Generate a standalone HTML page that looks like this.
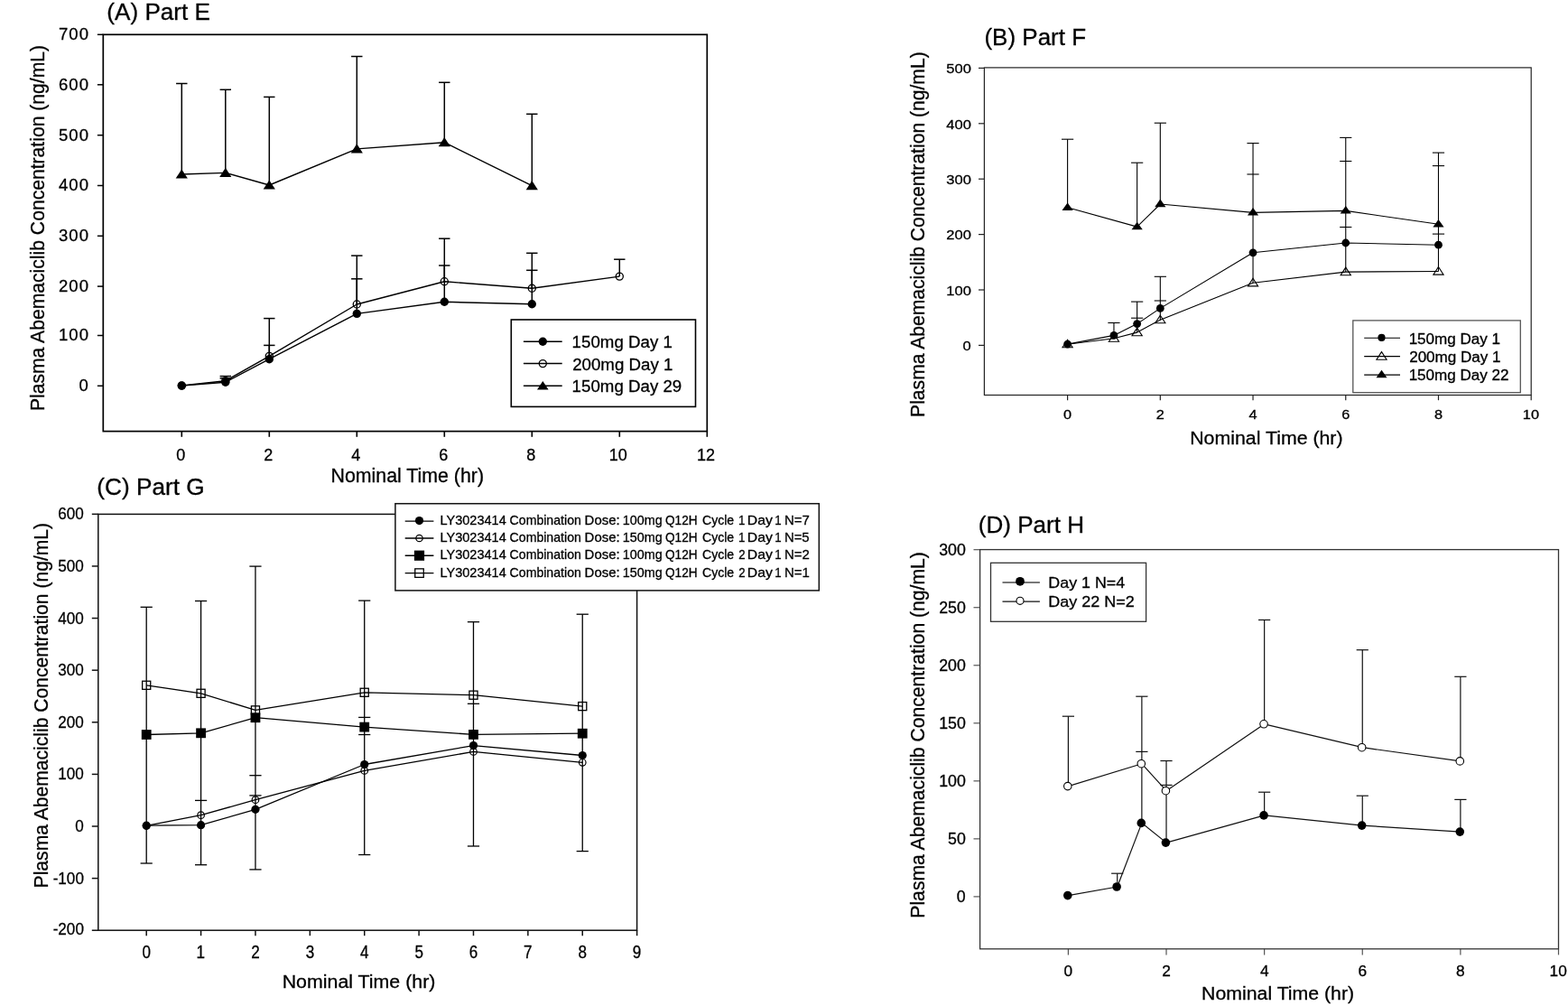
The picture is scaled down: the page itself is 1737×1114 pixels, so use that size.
<!DOCTYPE html>
<html><head><meta charset="utf-8"><title>Plasma Abemaciclib Concentration</title>
<style>html,body{margin:0;padding:0;background:#fff;} svg{display:block;} text{font-family:"Liberation Sans",Arial,sans-serif;stroke:#000;stroke-width:0.3px;}</style>
</head><body>
<svg width="1737" height="1114" viewBox="0 0 1737 1114">
<rect width="1737" height="1114" fill="#fff"/>
<line x1="107.90" y1="427.30" x2="114.30" y2="427.30" stroke="#000" stroke-width="1.5"/>
<text transform="translate(87.58,433.20)" font-size="18.5" fill="#000" letter-spacing="1.0">0</text>
<line x1="107.90" y1="371.50" x2="114.30" y2="371.50" stroke="#000" stroke-width="1.5"/>
<text transform="translate(65.05,377.40)" font-size="18.5" fill="#000" letter-spacing="1.0">100</text>
<line x1="107.90" y1="317.10" x2="114.30" y2="317.10" stroke="#000" stroke-width="1.5"/>
<text transform="translate(65.05,323.00)" font-size="18.5" fill="#000" letter-spacing="1.0">200</text>
<line x1="107.90" y1="261.30" x2="114.30" y2="261.30" stroke="#000" stroke-width="1.5"/>
<text transform="translate(65.05,267.20)" font-size="18.5" fill="#000" letter-spacing="1.0">300</text>
<line x1="107.90" y1="205.50" x2="114.30" y2="205.50" stroke="#000" stroke-width="1.5"/>
<text transform="translate(65.05,211.40)" font-size="18.5" fill="#000" letter-spacing="1.0">400</text>
<line x1="107.90" y1="149.70" x2="114.30" y2="149.70" stroke="#000" stroke-width="1.5"/>
<text transform="translate(65.05,155.60)" font-size="18.5" fill="#000" letter-spacing="1.0">500</text>
<line x1="107.90" y1="93.80" x2="114.30" y2="93.80" stroke="#000" stroke-width="1.5"/>
<text transform="translate(65.05,99.70)" font-size="18.5" fill="#000" letter-spacing="1.0">600</text>
<line x1="107.90" y1="38.30" x2="114.30" y2="38.30" stroke="#000" stroke-width="1.5"/>
<text transform="translate(65.05,44.20)" font-size="18.5" fill="#000" letter-spacing="1.0">700</text>
<line x1="201.30" y1="477.60" x2="201.30" y2="483.80" stroke="#000" stroke-width="1.6"/>
<text transform="translate(195.15,509.70) scale(0.9700,1)" font-size="18.6" fill="#000">0</text>
<line x1="298.30" y1="477.60" x2="298.30" y2="483.80" stroke="#000" stroke-width="1.6"/>
<text transform="translate(292.15,509.70) scale(0.9700,1)" font-size="18.6" fill="#000">2</text>
<line x1="395.30" y1="477.60" x2="395.30" y2="483.80" stroke="#000" stroke-width="1.6"/>
<text transform="translate(389.24,509.70) scale(0.9700,1)" font-size="18.6" fill="#000">4</text>
<line x1="492.30" y1="477.60" x2="492.30" y2="483.80" stroke="#000" stroke-width="1.6"/>
<text transform="translate(486.15,509.70) scale(0.9700,1)" font-size="18.6" fill="#000">6</text>
<line x1="589.30" y1="477.60" x2="589.30" y2="483.80" stroke="#000" stroke-width="1.6"/>
<text transform="translate(583.24,509.70) scale(0.9700,1)" font-size="18.6" fill="#000">8</text>
<line x1="686.30" y1="477.60" x2="686.30" y2="483.80" stroke="#000" stroke-width="1.6"/>
<text transform="translate(674.83,509.70) scale(0.9700,1)" font-size="18.6" fill="#000">10</text>
<line x1="783.30" y1="477.60" x2="783.30" y2="483.80" stroke="#000" stroke-width="1.6"/>
<text transform="translate(771.92,509.70) scale(0.9700,1)" font-size="18.6" fill="#000">12</text>
<rect x="114.30" y="38.30" width="669.00" height="439.30" fill="none" stroke="#000" stroke-width="1.7"/>
<text transform="translate(118.33,21.60) scale(1.0128,1)" font-size="25.8" fill="#000">(A) Part E</text>
<text transform="translate(366.49,533.60) scale(1.0069,1)" font-size="21.2" fill="#000">Nominal Time (hr)</text>
<text transform="translate(49.40,455.09) rotate(-90) scale(0.9612,1)" font-size="22.0" fill="#000">Plasma Abemaciclib Concentration (ng/mL)</text>
<line x1="201.30" y1="193.00" x2="201.30" y2="92.50" stroke="#000" stroke-width="1.5"/>
<line x1="195.10" y1="92.50" x2="207.50" y2="92.50" stroke="#000" stroke-width="1.5"/>
<line x1="249.80" y1="191.40" x2="249.80" y2="99.30" stroke="#000" stroke-width="1.5"/>
<line x1="243.60" y1="99.30" x2="256.00" y2="99.30" stroke="#000" stroke-width="1.5"/>
<line x1="298.30" y1="205.00" x2="298.30" y2="107.40" stroke="#000" stroke-width="1.5"/>
<line x1="292.10" y1="107.40" x2="304.50" y2="107.40" stroke="#000" stroke-width="1.5"/>
<line x1="395.30" y1="164.90" x2="395.30" y2="62.50" stroke="#000" stroke-width="1.5"/>
<line x1="389.10" y1="62.50" x2="401.50" y2="62.50" stroke="#000" stroke-width="1.5"/>
<line x1="492.30" y1="157.70" x2="492.30" y2="91.30" stroke="#000" stroke-width="1.5"/>
<line x1="486.10" y1="91.30" x2="498.50" y2="91.30" stroke="#000" stroke-width="1.5"/>
<line x1="589.30" y1="205.60" x2="589.30" y2="126.30" stroke="#000" stroke-width="1.5"/>
<line x1="583.10" y1="126.30" x2="595.50" y2="126.30" stroke="#000" stroke-width="1.5"/>
<line x1="249.80" y1="423.20" x2="249.80" y2="418.90" stroke="#000" stroke-width="1.5"/>
<line x1="243.60" y1="418.90" x2="256.00" y2="418.90" stroke="#000" stroke-width="1.5"/>
<line x1="298.30" y1="397.70" x2="298.30" y2="382.40" stroke="#000" stroke-width="1.5"/>
<line x1="292.10" y1="382.40" x2="304.50" y2="382.40" stroke="#000" stroke-width="1.5"/>
<line x1="395.30" y1="347.40" x2="395.30" y2="308.80" stroke="#000" stroke-width="1.5"/>
<line x1="389.10" y1="308.80" x2="401.50" y2="308.80" stroke="#000" stroke-width="1.5"/>
<line x1="492.30" y1="334.30" x2="492.30" y2="294.00" stroke="#000" stroke-width="1.5"/>
<line x1="486.10" y1="294.00" x2="498.50" y2="294.00" stroke="#000" stroke-width="1.5"/>
<line x1="589.30" y1="336.70" x2="589.30" y2="299.30" stroke="#000" stroke-width="1.5"/>
<line x1="583.10" y1="299.30" x2="595.50" y2="299.30" stroke="#000" stroke-width="1.5"/>
<line x1="249.80" y1="421.80" x2="249.80" y2="416.60" stroke="#000" stroke-width="1.5"/>
<line x1="243.60" y1="416.60" x2="256.00" y2="416.60" stroke="#000" stroke-width="1.5"/>
<line x1="298.30" y1="394.40" x2="298.30" y2="352.60" stroke="#000" stroke-width="1.5"/>
<line x1="292.10" y1="352.60" x2="304.50" y2="352.60" stroke="#000" stroke-width="1.5"/>
<line x1="395.30" y1="337.00" x2="395.30" y2="283.10" stroke="#000" stroke-width="1.5"/>
<line x1="389.10" y1="283.10" x2="401.50" y2="283.10" stroke="#000" stroke-width="1.5"/>
<line x1="492.30" y1="311.70" x2="492.30" y2="264.20" stroke="#000" stroke-width="1.5"/>
<line x1="486.10" y1="264.20" x2="498.50" y2="264.20" stroke="#000" stroke-width="1.5"/>
<line x1="589.30" y1="319.30" x2="589.30" y2="280.30" stroke="#000" stroke-width="1.5"/>
<line x1="583.10" y1="280.30" x2="595.50" y2="280.30" stroke="#000" stroke-width="1.5"/>
<line x1="686.30" y1="306.10" x2="686.30" y2="287.20" stroke="#000" stroke-width="1.5"/>
<line x1="680.10" y1="287.20" x2="692.50" y2="287.20" stroke="#000" stroke-width="1.5"/>
<polyline points="201.30,193.00 249.80,191.40 298.30,205.00 395.30,164.90 492.30,157.70 589.30,205.60" fill="none" stroke="#000" stroke-width="1.4" stroke-linejoin="round"/>
<polyline points="201.30,427.10 249.80,423.20 298.30,397.70 395.30,347.40 492.30,334.30 589.30,336.70" fill="none" stroke="#000" stroke-width="1.4" stroke-linejoin="round"/>
<polyline points="201.30,427.00 249.80,421.80 298.30,394.40 395.30,337.00 492.30,311.70 589.30,319.30 686.30,306.10" fill="none" stroke="#000" stroke-width="1.4" stroke-linejoin="round"/>
<polygon points="201.30,187.40 207.90,197.60 194.70,197.60" fill="#000"/>
<polygon points="249.80,185.80 256.40,196.00 243.20,196.00" fill="#000"/>
<polygon points="298.30,199.40 304.90,209.60 291.70,209.60" fill="#000"/>
<polygon points="395.30,159.30 401.90,169.50 388.70,169.50" fill="#000"/>
<polygon points="492.30,152.10 498.90,162.30 485.70,162.30" fill="#000"/>
<polygon points="589.30,200.00 595.90,210.20 582.70,210.20" fill="#000"/>
<circle cx="201.30" cy="427.00" r="4.05" fill="none" stroke="#000" stroke-width="1.3"/>
<circle cx="249.80" cy="421.80" r="4.05" fill="none" stroke="#000" stroke-width="1.3"/>
<circle cx="298.30" cy="394.40" r="4.05" fill="none" stroke="#000" stroke-width="1.3"/>
<circle cx="395.30" cy="337.00" r="4.05" fill="none" stroke="#000" stroke-width="1.3"/>
<circle cx="492.30" cy="311.70" r="4.05" fill="none" stroke="#000" stroke-width="1.3"/>
<circle cx="589.30" cy="319.30" r="4.05" fill="none" stroke="#000" stroke-width="1.3"/>
<circle cx="686.30" cy="306.10" r="4.05" fill="none" stroke="#000" stroke-width="1.3"/>
<circle cx="201.30" cy="427.10" r="4.70" fill="#000"/>
<circle cx="249.80" cy="423.20" r="4.70" fill="#000"/>
<circle cx="298.30" cy="397.70" r="4.70" fill="#000"/>
<circle cx="395.30" cy="347.40" r="4.70" fill="#000"/>
<circle cx="492.30" cy="334.30" r="4.70" fill="#000"/>
<circle cx="589.30" cy="336.70" r="4.70" fill="#000"/>
<rect x="566.30" y="354.00" width="204.20" height="96.40" fill="none" stroke="#000" stroke-width="1.6"/>
<line x1="579.90" y1="378.20" x2="622.70" y2="378.20" stroke="#000" stroke-width="1.5"/>
<circle cx="601.30" cy="378.20" r="4.70" fill="#000"/>
<text transform="translate(633.60,385.10) scale(0.9850,1)" font-size="19.0" fill="#000">150mg Day 1</text>
<line x1="579.90" y1="402.60" x2="622.70" y2="402.60" stroke="#000" stroke-width="1.5"/>
<circle cx="601.30" cy="402.60" r="4.05" fill="none" stroke="#000" stroke-width="1.3"/>
<text transform="translate(634.16,409.50) scale(0.9850,1)" font-size="19.0" fill="#000">200mg Day 1</text>
<line x1="579.90" y1="427.20" x2="622.70" y2="427.20" stroke="#000" stroke-width="1.5"/>
<polygon points="601.30,421.90 607.60,431.60 595.00,431.60" fill="#000"/>
<text transform="translate(633.60,434.10) scale(0.9850,1)" font-size="19.0" fill="#000">150mg Day 29</text>
<line x1="1084.00" y1="382.40" x2="1090.40" y2="382.40" stroke="#222" stroke-width="1.2"/>
<text transform="translate(1066.62,388.20) scale(1.1150,1)" font-size="14.8" fill="#000">0</text>
<line x1="1084.00" y1="321.00" x2="1090.40" y2="321.00" stroke="#222" stroke-width="1.2"/>
<text transform="translate(1048.30,326.80) scale(1.1150,1)" font-size="14.8" fill="#000">100</text>
<line x1="1084.00" y1="259.60" x2="1090.40" y2="259.60" stroke="#222" stroke-width="1.2"/>
<text transform="translate(1048.30,265.40) scale(1.1150,1)" font-size="14.8" fill="#000">200</text>
<line x1="1084.00" y1="198.20" x2="1090.40" y2="198.20" stroke="#222" stroke-width="1.2"/>
<text transform="translate(1048.30,204.00) scale(1.1150,1)" font-size="14.8" fill="#000">300</text>
<line x1="1084.00" y1="136.80" x2="1090.40" y2="136.80" stroke="#222" stroke-width="1.2"/>
<text transform="translate(1048.30,142.60) scale(1.1150,1)" font-size="14.8" fill="#000">400</text>
<line x1="1084.00" y1="75.40" x2="1090.40" y2="75.40" stroke="#222" stroke-width="1.2"/>
<text transform="translate(1048.30,81.20) scale(1.1150,1)" font-size="14.8" fill="#000">500</text>
<line x1="1182.60" y1="437.50" x2="1182.60" y2="443.20" stroke="#222" stroke-width="1.2"/>
<text transform="translate(1178.04,464.20) scale(1.1400,1)" font-size="14.3" fill="#000">0</text>
<line x1="1285.32" y1="437.50" x2="1285.32" y2="443.20" stroke="#222" stroke-width="1.2"/>
<text transform="translate(1280.76,464.20) scale(1.1400,1)" font-size="14.3" fill="#000">2</text>
<line x1="1388.04" y1="437.50" x2="1388.04" y2="443.20" stroke="#222" stroke-width="1.2"/>
<text transform="translate(1383.56,464.20) scale(1.1400,1)" font-size="14.3" fill="#000">4</text>
<line x1="1490.76" y1="437.50" x2="1490.76" y2="443.20" stroke="#222" stroke-width="1.2"/>
<text transform="translate(1486.20,464.20) scale(1.1400,1)" font-size="14.3" fill="#000">6</text>
<line x1="1593.48" y1="437.50" x2="1593.48" y2="443.20" stroke="#222" stroke-width="1.2"/>
<text transform="translate(1589.00,464.20) scale(1.1400,1)" font-size="14.3" fill="#000">8</text>
<line x1="1696.20" y1="437.50" x2="1696.20" y2="443.20" stroke="#222" stroke-width="1.2"/>
<text transform="translate(1686.83,464.20) scale(1.1400,1)" font-size="14.3" fill="#000">10</text>
<rect x="1090.40" y="74.90" width="605.80" height="362.60" fill="none" stroke="#222" stroke-width="1.2"/>
<text transform="translate(1090.44,50.30) scale(1.0119,1)" font-size="25.7" fill="#000">(B) Part F</text>
<text transform="translate(1318.19,492.40) scale(1.0153,1)" font-size="21.0" fill="#000">Nominal Time (hr)</text>
<text transform="translate(1024.20,461.89) rotate(-90) scale(0.9597,1)" font-size="22.0" fill="#000">Plasma Abemaciclib Concentration (ng/mL)</text>
<line x1="1182.60" y1="229.80" x2="1182.60" y2="154.20" stroke="#000" stroke-width="1.1"/>
<line x1="1176.00" y1="154.20" x2="1189.20" y2="154.20" stroke="#000" stroke-width="1.1"/>
<line x1="1233.96" y1="371.40" x2="1233.96" y2="357.50" stroke="#000" stroke-width="1.1"/>
<line x1="1227.36" y1="357.50" x2="1240.56" y2="357.50" stroke="#000" stroke-width="1.1"/>
<line x1="1259.64" y1="251.10" x2="1259.64" y2="180.20" stroke="#000" stroke-width="1.1"/>
<line x1="1253.04" y1="180.20" x2="1266.24" y2="180.20" stroke="#000" stroke-width="1.1"/>
<line x1="1259.64" y1="368.10" x2="1259.64" y2="334.10" stroke="#000" stroke-width="1.1"/>
<line x1="1253.04" y1="334.10" x2="1266.24" y2="334.10" stroke="#000" stroke-width="1.1"/>
<line x1="1253.04" y1="352.20" x2="1266.24" y2="352.20" stroke="#000" stroke-width="1.1"/>
<line x1="1285.32" y1="226.00" x2="1285.32" y2="136.20" stroke="#000" stroke-width="1.1"/>
<line x1="1278.72" y1="136.20" x2="1291.92" y2="136.20" stroke="#000" stroke-width="1.1"/>
<line x1="1285.32" y1="354.20" x2="1285.32" y2="306.30" stroke="#000" stroke-width="1.1"/>
<line x1="1278.72" y1="306.30" x2="1291.92" y2="306.30" stroke="#000" stroke-width="1.1"/>
<line x1="1278.72" y1="333.00" x2="1291.92" y2="333.00" stroke="#000" stroke-width="1.1"/>
<line x1="1388.04" y1="313.30" x2="1388.04" y2="158.60" stroke="#000" stroke-width="1.1"/>
<line x1="1381.44" y1="158.60" x2="1394.64" y2="158.60" stroke="#000" stroke-width="1.1"/>
<line x1="1381.44" y1="193.00" x2="1394.64" y2="193.00" stroke="#000" stroke-width="1.1"/>
<line x1="1490.76" y1="301.10" x2="1490.76" y2="152.40" stroke="#000" stroke-width="1.1"/>
<line x1="1484.16" y1="152.40" x2="1497.36" y2="152.40" stroke="#000" stroke-width="1.1"/>
<line x1="1484.16" y1="178.50" x2="1497.36" y2="178.50" stroke="#000" stroke-width="1.1"/>
<line x1="1484.16" y1="251.50" x2="1497.36" y2="251.50" stroke="#000" stroke-width="1.1"/>
<line x1="1593.48" y1="300.50" x2="1593.48" y2="169.10" stroke="#000" stroke-width="1.1"/>
<line x1="1586.88" y1="169.10" x2="1600.08" y2="169.10" stroke="#000" stroke-width="1.1"/>
<line x1="1586.88" y1="183.60" x2="1600.08" y2="183.60" stroke="#000" stroke-width="1.1"/>
<line x1="1586.88" y1="259.10" x2="1600.08" y2="259.10" stroke="#000" stroke-width="1.1"/>
<polyline points="1182.60,381.10 1233.96,371.40 1259.64,358.60 1285.32,341.40 1388.04,279.80 1490.76,269.00 1593.48,271.20" fill="none" stroke="#000" stroke-width="1.1" stroke-linejoin="round"/>
<polyline points="1182.60,381.20 1233.96,374.70 1259.64,368.10 1285.32,354.20 1388.04,313.30 1490.76,301.10 1593.48,300.50" fill="none" stroke="#000" stroke-width="1.1" stroke-linejoin="round"/>
<polyline points="1182.60,229.80 1259.64,251.10 1285.32,226.00 1388.04,235.40 1490.76,233.40 1593.48,248.30" fill="none" stroke="#000" stroke-width="1.1" stroke-linejoin="round"/>
<polygon points="1182.60,376.20 1188.20,384.80 1177.00,384.80" fill="none" stroke="#000" stroke-width="1.1" stroke-linejoin="miter"/>
<polygon points="1233.96,369.70 1239.56,378.30 1228.36,378.30" fill="none" stroke="#000" stroke-width="1.1" stroke-linejoin="miter"/>
<polygon points="1259.64,363.10 1265.24,371.70 1254.04,371.70" fill="none" stroke="#000" stroke-width="1.1" stroke-linejoin="miter"/>
<polygon points="1285.32,349.20 1290.92,357.80 1279.72,357.80" fill="none" stroke="#000" stroke-width="1.1" stroke-linejoin="miter"/>
<polygon points="1388.04,308.30 1393.64,316.90 1382.44,316.90" fill="none" stroke="#000" stroke-width="1.1" stroke-linejoin="miter"/>
<polygon points="1490.76,296.10 1496.36,304.70 1485.16,304.70" fill="none" stroke="#000" stroke-width="1.1" stroke-linejoin="miter"/>
<polygon points="1593.48,295.50 1599.08,304.10 1587.88,304.10" fill="none" stroke="#000" stroke-width="1.1" stroke-linejoin="miter"/>
<circle cx="1182.60" cy="381.10" r="4.40" fill="#000"/>
<circle cx="1233.96" cy="371.40" r="4.40" fill="#000"/>
<circle cx="1259.64" cy="358.60" r="4.40" fill="#000"/>
<circle cx="1285.32" cy="341.40" r="4.40" fill="#000"/>
<circle cx="1388.04" cy="279.80" r="4.40" fill="#000"/>
<circle cx="1490.76" cy="269.00" r="4.40" fill="#000"/>
<circle cx="1593.48" cy="271.20" r="4.40" fill="#000"/>
<polygon points="1182.60,224.40 1188.70,233.00 1176.50,233.00" fill="#000"/>
<polygon points="1259.64,245.70 1265.74,254.30 1253.54,254.30" fill="#000"/>
<polygon points="1285.32,220.60 1291.42,229.20 1279.22,229.20" fill="#000"/>
<polygon points="1388.04,230.00 1394.14,238.60 1381.94,238.60" fill="#000"/>
<polygon points="1490.76,228.00 1496.86,236.60 1484.66,236.60" fill="#000"/>
<polygon points="1593.48,242.90 1599.58,251.50 1587.38,251.50" fill="#000"/>
<rect x="1498.80" y="354.90" width="185.50" height="79.80" fill="none" stroke="#555" stroke-width="1.3"/>
<line x1="1511.20" y1="374.30" x2="1551.00" y2="374.30" stroke="#000" stroke-width="1.1"/>
<circle cx="1530.50" cy="373.90" r="4.10" fill="#000"/>
<text transform="translate(1560.63,380.70) scale(1.0800,1)" font-size="15.8" fill="#000">150mg Day 1</text>
<line x1="1511.20" y1="394.60" x2="1551.00" y2="394.60" stroke="#000" stroke-width="1.1"/>
<polygon points="1530.50,389.60 1536.10,398.20 1524.90,398.20" fill="none" stroke="#000" stroke-width="1.1" stroke-linejoin="miter"/>
<text transform="translate(1561.15,400.60) scale(1.0800,1)" font-size="15.8" fill="#000">200mg Day 1</text>
<line x1="1511.20" y1="415.10" x2="1551.00" y2="415.10" stroke="#000" stroke-width="1.1"/>
<polygon points="1530.50,409.80 1536.50,418.30 1524.50,418.30" fill="#000"/>
<text transform="translate(1560.63,420.60) scale(1.0800,1)" font-size="15.8" fill="#000">150mg Day 22</text>
<line x1="101.80" y1="1030.22" x2="108.80" y2="1030.22" stroke="#111" stroke-width="1.5"/>
<text transform="translate(58.68,1034.92) scale(0.9000,1)" font-size="19.0" fill="#000">-200</text>
<line x1="101.80" y1="972.61" x2="108.80" y2="972.61" stroke="#111" stroke-width="1.5"/>
<text transform="translate(58.68,978.71) scale(0.9000,1)" font-size="19.0" fill="#000">-100</text>
<line x1="101.80" y1="915.00" x2="108.80" y2="915.00" stroke="#111" stroke-width="1.5"/>
<text transform="translate(83.31,921.10) scale(0.9000,1)" font-size="19.0" fill="#000">0</text>
<line x1="101.80" y1="857.39" x2="108.80" y2="857.39" stroke="#111" stroke-width="1.5"/>
<text transform="translate(64.33,863.49) scale(0.9000,1)" font-size="19.0" fill="#000">100</text>
<line x1="101.80" y1="799.78" x2="108.80" y2="799.78" stroke="#111" stroke-width="1.5"/>
<text transform="translate(64.33,805.88) scale(0.9000,1)" font-size="19.0" fill="#000">200</text>
<line x1="101.80" y1="742.17" x2="108.80" y2="742.17" stroke="#111" stroke-width="1.5"/>
<text transform="translate(64.33,748.27) scale(0.9000,1)" font-size="19.0" fill="#000">300</text>
<line x1="101.80" y1="684.56" x2="108.80" y2="684.56" stroke="#111" stroke-width="1.5"/>
<text transform="translate(64.33,690.66) scale(0.9000,1)" font-size="19.0" fill="#000">400</text>
<line x1="101.80" y1="626.95" x2="108.80" y2="626.95" stroke="#111" stroke-width="1.5"/>
<text transform="translate(64.33,633.05) scale(0.9000,1)" font-size="19.0" fill="#000">500</text>
<line x1="101.80" y1="569.34" x2="108.80" y2="569.34" stroke="#111" stroke-width="1.5"/>
<text transform="translate(64.33,575.44) scale(0.9000,1)" font-size="19.0" fill="#000">600</text>
<line x1="162.20" y1="1030.20" x2="162.20" y2="1036.20" stroke="#111" stroke-width="1.5"/>
<text transform="translate(157.42,1061.00) scale(0.8800,1)" font-size="19.4" fill="#000">0</text>
<line x1="222.58" y1="1030.20" x2="222.58" y2="1036.20" stroke="#111" stroke-width="1.5"/>
<text transform="translate(217.54,1061.00) scale(0.8800,1)" font-size="19.4" fill="#000">1</text>
<line x1="282.96" y1="1030.20" x2="282.96" y2="1036.20" stroke="#111" stroke-width="1.5"/>
<text transform="translate(278.18,1061.00) scale(0.8800,1)" font-size="19.4" fill="#000">2</text>
<line x1="343.34" y1="1030.20" x2="343.34" y2="1036.20" stroke="#111" stroke-width="1.5"/>
<text transform="translate(338.65,1061.00) scale(0.8800,1)" font-size="19.4" fill="#000">3</text>
<line x1="403.72" y1="1030.20" x2="403.72" y2="1036.20" stroke="#111" stroke-width="1.5"/>
<text transform="translate(399.03,1061.00) scale(0.8800,1)" font-size="19.4" fill="#000">4</text>
<line x1="464.10" y1="1030.20" x2="464.10" y2="1036.20" stroke="#111" stroke-width="1.5"/>
<text transform="translate(459.41,1061.00) scale(0.8800,1)" font-size="19.4" fill="#000">5</text>
<line x1="524.48" y1="1030.20" x2="524.48" y2="1036.20" stroke="#111" stroke-width="1.5"/>
<text transform="translate(519.70,1061.00) scale(0.8800,1)" font-size="19.4" fill="#000">6</text>
<line x1="584.86" y1="1030.20" x2="584.86" y2="1036.20" stroke="#111" stroke-width="1.5"/>
<text transform="translate(580.08,1061.00) scale(0.8800,1)" font-size="19.4" fill="#000">7</text>
<line x1="645.24" y1="1030.20" x2="645.24" y2="1036.20" stroke="#111" stroke-width="1.5"/>
<text transform="translate(640.55,1061.00) scale(0.8800,1)" font-size="19.4" fill="#000">8</text>
<line x1="705.62" y1="1030.20" x2="705.62" y2="1036.20" stroke="#111" stroke-width="1.5"/>
<text transform="translate(700.84,1061.00) scale(0.8800,1)" font-size="19.4" fill="#000">9</text>
<rect x="108.80" y="569.40" width="596.80" height="460.80" fill="none" stroke="#111" stroke-width="1.5"/>
<text transform="translate(107.33,547.60) scale(1.0480,1)" font-size="25.0" fill="#000">(C) Part G</text>
<text transform="translate(312.69,1094.20) scale(1.0177,1)" font-size="21.0" fill="#000">Nominal Time (hr)</text>
<text transform="translate(52.80,983.39) rotate(-90) scale(0.9593,1)" font-size="22.0" fill="#000">Plasma Abemaciclib Concentration (ng/mL)</text>
<line x1="162.20" y1="956.00" x2="162.20" y2="672.30" stroke="#000" stroke-width="1.3"/>
<line x1="155.60" y1="672.30" x2="168.80" y2="672.30" stroke="#000" stroke-width="1.3"/>
<line x1="155.60" y1="956.00" x2="168.80" y2="956.00" stroke="#000" stroke-width="1.3"/>
<line x1="222.58" y1="957.70" x2="222.58" y2="665.50" stroke="#000" stroke-width="1.3"/>
<line x1="215.98" y1="665.50" x2="229.18" y2="665.50" stroke="#000" stroke-width="1.3"/>
<line x1="215.98" y1="957.70" x2="229.18" y2="957.70" stroke="#000" stroke-width="1.3"/>
<line x1="215.98" y1="886.40" x2="229.18" y2="886.40" stroke="#000" stroke-width="1.3"/>
<line x1="282.96" y1="962.90" x2="282.96" y2="627.10" stroke="#000" stroke-width="1.3"/>
<line x1="276.36" y1="627.10" x2="289.56" y2="627.10" stroke="#000" stroke-width="1.3"/>
<line x1="276.36" y1="962.90" x2="289.56" y2="962.90" stroke="#000" stroke-width="1.3"/>
<line x1="276.36" y1="858.70" x2="289.56" y2="858.70" stroke="#000" stroke-width="1.3"/>
<line x1="276.36" y1="880.90" x2="289.56" y2="880.90" stroke="#000" stroke-width="1.3"/>
<line x1="403.72" y1="946.50" x2="403.72" y2="665.10" stroke="#000" stroke-width="1.3"/>
<line x1="397.12" y1="665.10" x2="410.32" y2="665.10" stroke="#000" stroke-width="1.3"/>
<line x1="397.12" y1="946.50" x2="410.32" y2="946.50" stroke="#000" stroke-width="1.3"/>
<line x1="397.12" y1="794.40" x2="410.32" y2="794.40" stroke="#000" stroke-width="1.3"/>
<line x1="397.12" y1="813.50" x2="410.32" y2="813.50" stroke="#000" stroke-width="1.3"/>
<line x1="524.48" y1="937.00" x2="524.48" y2="688.70" stroke="#000" stroke-width="1.3"/>
<line x1="517.88" y1="688.70" x2="531.08" y2="688.70" stroke="#000" stroke-width="1.3"/>
<line x1="517.88" y1="937.00" x2="531.08" y2="937.00" stroke="#000" stroke-width="1.3"/>
<line x1="517.88" y1="779.30" x2="531.08" y2="779.30" stroke="#000" stroke-width="1.3"/>
<line x1="645.24" y1="942.60" x2="645.24" y2="680.20" stroke="#000" stroke-width="1.3"/>
<line x1="638.64" y1="680.20" x2="651.84" y2="680.20" stroke="#000" stroke-width="1.3"/>
<line x1="638.64" y1="942.60" x2="651.84" y2="942.60" stroke="#000" stroke-width="1.3"/>
<polyline points="162.20,914.20 222.58,913.70 282.96,896.30 403.72,846.50 524.48,825.60 645.24,836.50" fill="none" stroke="#000" stroke-width="1.3" stroke-linejoin="round"/>
<polyline points="162.20,914.40 222.58,902.70 282.96,885.70 403.72,853.40 524.48,832.40 645.24,844.30" fill="none" stroke="#000" stroke-width="1.3" stroke-linejoin="round"/>
<polyline points="162.20,813.50 222.58,811.80 282.96,794.70 403.72,805.10 524.48,813.40 645.24,812.20" fill="none" stroke="#000" stroke-width="1.3" stroke-linejoin="round"/>
<polyline points="162.20,758.80 222.58,767.80 282.96,786.40 403.72,766.80 524.48,769.70 645.24,782.10" fill="none" stroke="#000" stroke-width="1.3" stroke-linejoin="round"/>
<rect x="157.65" y="754.25" width="9.10" height="9.10" fill="none" stroke="#000" stroke-width="1.3"/>
<rect x="218.03" y="763.25" width="9.10" height="9.10" fill="none" stroke="#000" stroke-width="1.3"/>
<rect x="278.41" y="781.85" width="9.10" height="9.10" fill="none" stroke="#000" stroke-width="1.3"/>
<rect x="399.17" y="762.25" width="9.10" height="9.10" fill="none" stroke="#000" stroke-width="1.3"/>
<rect x="519.93" y="765.15" width="9.10" height="9.10" fill="none" stroke="#000" stroke-width="1.3"/>
<rect x="640.69" y="777.55" width="9.10" height="9.10" fill="none" stroke="#000" stroke-width="1.3"/>
<rect x="156.80" y="808.10" width="10.80" height="10.80" fill="#000"/>
<rect x="217.18" y="806.40" width="10.80" height="10.80" fill="#000"/>
<rect x="277.56" y="789.30" width="10.80" height="10.80" fill="#000"/>
<rect x="398.32" y="799.70" width="10.80" height="10.80" fill="#000"/>
<rect x="519.08" y="808.00" width="10.80" height="10.80" fill="#000"/>
<rect x="639.84" y="806.80" width="10.80" height="10.80" fill="#000"/>
<circle cx="162.20" cy="914.40" r="3.80" fill="none" stroke="#000" stroke-width="1.2"/>
<circle cx="222.58" cy="902.70" r="3.80" fill="none" stroke="#000" stroke-width="1.2"/>
<circle cx="282.96" cy="885.70" r="3.80" fill="none" stroke="#000" stroke-width="1.2"/>
<circle cx="403.72" cy="853.40" r="3.80" fill="none" stroke="#000" stroke-width="1.2"/>
<circle cx="524.48" cy="832.40" r="3.80" fill="none" stroke="#000" stroke-width="1.2"/>
<circle cx="645.24" cy="844.30" r="3.80" fill="none" stroke="#000" stroke-width="1.2"/>
<circle cx="162.20" cy="914.20" r="4.60" fill="#000"/>
<circle cx="222.58" cy="913.70" r="4.60" fill="#000"/>
<circle cx="282.96" cy="896.30" r="4.60" fill="#000"/>
<circle cx="403.72" cy="846.50" r="4.60" fill="#000"/>
<circle cx="524.48" cy="825.60" r="4.60" fill="#000"/>
<circle cx="645.24" cy="836.50" r="4.60" fill="#000"/>
<rect x="437.90" y="557.70" width="469.40" height="96.20" fill="#fff" stroke="#111" stroke-width="1.5"/>
<line x1="448.70" y1="577.10" x2="480.40" y2="577.10" stroke="#000" stroke-width="1.4"/>
<circle cx="464.50" cy="576.60" r="4.60" fill="#000"/>
<text transform="translate(487.54,581.00) scale(1.0086,1)" font-size="14.4" fill="#000">LY3023414</text>
<text transform="translate(564.59,581.00) scale(0.9811,1)" font-size="14.4" fill="#000">Combination</text>
<text transform="translate(647.61,581.00) scale(1.0360,1)" font-size="14.4" fill="#000">Dose:</text>
<text transform="translate(689.75,581.00) scale(0.9975,1)" font-size="14.4" fill="#000">100mg</text>
<text transform="translate(737.02,581.00) scale(0.9465,1)" font-size="14.4" fill="#000">Q12H</text>
<text transform="translate(778.00,581.00) scale(0.9768,1)" font-size="14.4" fill="#000">Cycle</text>
<text transform="translate(817.94,581.00) scale(0.9200,1)" font-size="14.4" fill="#000">1</text>
<text transform="translate(827.84,581.00) scale(1.0930,1)" font-size="14.4" fill="#000">Day</text>
<text transform="translate(858.24,581.00) scale(0.9200,1)" font-size="14.4" fill="#000">1</text>
<text transform="translate(868.90,581.00) scale(1.0397,1)" font-size="14.4" fill="#000">N=7</text>
<line x1="448.70" y1="596.00" x2="480.40" y2="596.00" stroke="#000" stroke-width="1.4"/>
<circle cx="464.50" cy="596.00" r="3.70" fill="none" stroke="#000" stroke-width="1.2"/>
<text transform="translate(487.54,599.90) scale(1.0086,1)" font-size="14.4" fill="#000">LY3023414</text>
<text transform="translate(564.59,599.90) scale(0.9811,1)" font-size="14.4" fill="#000">Combination</text>
<text transform="translate(647.61,599.90) scale(1.0360,1)" font-size="14.4" fill="#000">Dose:</text>
<text transform="translate(689.75,599.90) scale(0.9975,1)" font-size="14.4" fill="#000">150mg</text>
<text transform="translate(737.02,599.90) scale(0.9465,1)" font-size="14.4" fill="#000">Q12H</text>
<text transform="translate(778.00,599.90) scale(0.9768,1)" font-size="14.4" fill="#000">Cycle</text>
<text transform="translate(817.94,599.90) scale(0.9200,1)" font-size="14.4" fill="#000">1</text>
<text transform="translate(827.84,599.90) scale(1.0930,1)" font-size="14.4" fill="#000">Day</text>
<text transform="translate(858.24,599.90) scale(0.9200,1)" font-size="14.4" fill="#000">1</text>
<text transform="translate(868.91,599.90) scale(1.0337,1)" font-size="14.4" fill="#000">N=5</text>
<line x1="448.70" y1="615.20" x2="480.40" y2="615.20" stroke="#000" stroke-width="1.4"/>
<rect x="458.90" y="609.60" width="11.20" height="11.20" fill="#000"/>
<text transform="translate(487.54,619.10) scale(1.0086,1)" font-size="14.4" fill="#000">LY3023414</text>
<text transform="translate(564.59,619.10) scale(0.9811,1)" font-size="14.4" fill="#000">Combination</text>
<text transform="translate(647.61,619.10) scale(1.0360,1)" font-size="14.4" fill="#000">Dose:</text>
<text transform="translate(689.75,619.10) scale(0.9975,1)" font-size="14.4" fill="#000">100mg</text>
<text transform="translate(737.02,619.10) scale(0.9465,1)" font-size="14.4" fill="#000">Q12H</text>
<text transform="translate(778.00,619.10) scale(0.9768,1)" font-size="14.4" fill="#000">Cycle</text>
<text transform="translate(818.34,619.10) scale(0.9200,1)" font-size="14.4" fill="#000">2</text>
<text transform="translate(827.84,619.10) scale(1.0930,1)" font-size="14.4" fill="#000">Day</text>
<text transform="translate(858.24,619.10) scale(0.9200,1)" font-size="14.4" fill="#000">1</text>
<text transform="translate(868.90,619.10) scale(1.0397,1)" font-size="14.4" fill="#000">N=2</text>
<line x1="448.70" y1="634.60" x2="480.40" y2="634.60" stroke="#000" stroke-width="1.4"/>
<rect x="459.75" y="629.85" width="9.50" height="9.50" fill="none" stroke="#000" stroke-width="1.3"/>
<text transform="translate(487.54,638.50) scale(1.0086,1)" font-size="14.4" fill="#000">LY3023414</text>
<text transform="translate(564.59,638.50) scale(0.9811,1)" font-size="14.4" fill="#000">Combination</text>
<text transform="translate(647.61,638.50) scale(1.0360,1)" font-size="14.4" fill="#000">Dose:</text>
<text transform="translate(689.75,638.50) scale(0.9975,1)" font-size="14.4" fill="#000">150mg</text>
<text transform="translate(737.02,638.50) scale(0.9465,1)" font-size="14.4" fill="#000">Q12H</text>
<text transform="translate(778.00,638.50) scale(0.9768,1)" font-size="14.4" fill="#000">Cycle</text>
<text transform="translate(818.34,638.50) scale(0.9200,1)" font-size="14.4" fill="#000">2</text>
<text transform="translate(827.84,638.50) scale(1.0930,1)" font-size="14.4" fill="#000">Day</text>
<text transform="translate(858.24,638.50) scale(0.9200,1)" font-size="14.4" fill="#000">1</text>
<text transform="translate(868.90,638.50) scale(1.0397,1)" font-size="14.4" fill="#000">N=1</text>
<line x1="1078.50" y1="992.90" x2="1085.60" y2="992.90" stroke="#555" stroke-width="1.2"/>
<text transform="translate(1059.86,999.30) scale(1.0100,1)" font-size="17.6" fill="#000">0</text>
<line x1="1078.50" y1="928.87" x2="1085.60" y2="928.87" stroke="#555" stroke-width="1.2"/>
<text transform="translate(1050.08,935.26) scale(1.0100,1)" font-size="17.6" fill="#000">50</text>
<line x1="1078.50" y1="864.83" x2="1085.60" y2="864.83" stroke="#555" stroke-width="1.2"/>
<text transform="translate(1040.13,871.23) scale(1.0100,1)" font-size="17.6" fill="#000">100</text>
<line x1="1078.50" y1="800.79" x2="1085.60" y2="800.79" stroke="#555" stroke-width="1.2"/>
<text transform="translate(1040.13,807.19) scale(1.0100,1)" font-size="17.6" fill="#000">150</text>
<line x1="1078.50" y1="736.76" x2="1085.60" y2="736.76" stroke="#555" stroke-width="1.2"/>
<text transform="translate(1040.13,743.16) scale(1.0100,1)" font-size="17.6" fill="#000">200</text>
<line x1="1078.50" y1="672.72" x2="1085.60" y2="672.72" stroke="#555" stroke-width="1.2"/>
<text transform="translate(1040.13,679.12) scale(1.0100,1)" font-size="17.6" fill="#000">250</text>
<line x1="1078.50" y1="608.69" x2="1085.60" y2="608.69" stroke="#555" stroke-width="1.2"/>
<text transform="translate(1040.13,615.09) scale(1.0100,1)" font-size="17.6" fill="#000">300</text>
<line x1="1183.40" y1="1050.80" x2="1183.40" y2="1057.40" stroke="#555" stroke-width="1.2"/>
<text transform="translate(1178.56,1081.30)" font-size="17.3" fill="#000">0</text>
<line x1="1292.02" y1="1050.80" x2="1292.02" y2="1057.40" stroke="#555" stroke-width="1.2"/>
<text transform="translate(1287.18,1081.30)" font-size="17.3" fill="#000">2</text>
<line x1="1400.64" y1="1050.80" x2="1400.64" y2="1057.40" stroke="#555" stroke-width="1.2"/>
<text transform="translate(1395.88,1081.30)" font-size="17.3" fill="#000">4</text>
<line x1="1509.26" y1="1050.80" x2="1509.26" y2="1057.40" stroke="#555" stroke-width="1.2"/>
<text transform="translate(1504.42,1081.30)" font-size="17.3" fill="#000">6</text>
<line x1="1617.88" y1="1050.80" x2="1617.88" y2="1057.40" stroke="#555" stroke-width="1.2"/>
<text transform="translate(1613.12,1081.30)" font-size="17.3" fill="#000">8</text>
<line x1="1726.50" y1="1050.80" x2="1726.50" y2="1057.40" stroke="#555" stroke-width="1.2"/>
<text transform="translate(1716.55,1081.30)" font-size="17.3" fill="#000">10</text>
<rect x="1085.60" y="608.60" width="640.90" height="442.20" fill="none" stroke="#333" stroke-width="1.3"/>
<text transform="translate(1083.74,589.70) scale(1.0147,1)" font-size="25.7" fill="#000">(D) Part H</text>
<text transform="translate(1331.10,1107.10) scale(1.0140,1)" font-size="21.0" fill="#000">Nominal Time (hr)</text>
<text transform="translate(1024.20,1016.69) rotate(-90) scale(0.9616,1)" font-size="22.0" fill="#000">Plasma Abemaciclib Concentration (ng/mL)</text>
<line x1="1183.40" y1="870.60" x2="1183.40" y2="793.20" stroke="#111" stroke-width="1.2"/>
<line x1="1176.80" y1="793.20" x2="1190.00" y2="793.20" stroke="#111" stroke-width="1.2"/>
<line x1="1237.71" y1="982.00" x2="1237.71" y2="967.20" stroke="#111" stroke-width="1.2"/>
<line x1="1231.11" y1="967.20" x2="1244.31" y2="967.20" stroke="#111" stroke-width="1.2"/>
<line x1="1264.87" y1="911.40" x2="1264.87" y2="771.20" stroke="#111" stroke-width="1.2"/>
<line x1="1258.27" y1="771.20" x2="1271.46" y2="771.20" stroke="#111" stroke-width="1.2"/>
<line x1="1258.27" y1="832.40" x2="1271.46" y2="832.40" stroke="#111" stroke-width="1.2"/>
<line x1="1292.02" y1="933.10" x2="1292.02" y2="842.50" stroke="#111" stroke-width="1.2"/>
<line x1="1285.42" y1="842.50" x2="1298.62" y2="842.50" stroke="#111" stroke-width="1.2"/>
<line x1="1285.42" y1="869.40" x2="1298.62" y2="869.40" stroke="#111" stroke-width="1.2"/>
<line x1="1400.64" y1="801.80" x2="1400.64" y2="686.50" stroke="#111" stroke-width="1.2"/>
<line x1="1394.04" y1="686.50" x2="1407.24" y2="686.50" stroke="#111" stroke-width="1.2"/>
<line x1="1400.64" y1="902.90" x2="1400.64" y2="877.20" stroke="#111" stroke-width="1.2"/>
<line x1="1394.04" y1="877.20" x2="1407.24" y2="877.20" stroke="#111" stroke-width="1.2"/>
<line x1="1509.26" y1="827.70" x2="1509.26" y2="719.70" stroke="#111" stroke-width="1.2"/>
<line x1="1502.66" y1="719.70" x2="1515.86" y2="719.70" stroke="#111" stroke-width="1.2"/>
<line x1="1509.26" y1="914.10" x2="1509.26" y2="881.20" stroke="#111" stroke-width="1.2"/>
<line x1="1502.66" y1="881.20" x2="1515.86" y2="881.20" stroke="#111" stroke-width="1.2"/>
<line x1="1617.88" y1="842.90" x2="1617.88" y2="749.30" stroke="#111" stroke-width="1.2"/>
<line x1="1611.28" y1="749.30" x2="1624.48" y2="749.30" stroke="#111" stroke-width="1.2"/>
<line x1="1617.88" y1="921.10" x2="1617.88" y2="885.40" stroke="#111" stroke-width="1.2"/>
<line x1="1611.28" y1="885.40" x2="1624.48" y2="885.40" stroke="#111" stroke-width="1.2"/>
<polyline points="1183.40,991.60 1237.71,982.00 1264.87,911.40 1292.02,933.10 1400.64,902.90 1509.26,914.10 1617.88,921.10" fill="none" stroke="#111" stroke-width="1.2" stroke-linejoin="round"/>
<polyline points="1183.40,870.60 1264.87,845.70 1292.02,875.70 1400.64,801.80 1509.26,827.70 1617.88,842.90" fill="none" stroke="#111" stroke-width="1.2" stroke-linejoin="round"/>
<circle cx="1182.80" cy="870.60" r="4.25" fill="#fff" stroke="#000" stroke-width="1.1"/>
<circle cx="1264.27" cy="845.70" r="4.25" fill="#fff" stroke="#000" stroke-width="1.1"/>
<circle cx="1291.42" cy="875.70" r="4.25" fill="#fff" stroke="#000" stroke-width="1.1"/>
<circle cx="1400.04" cy="801.80" r="4.25" fill="#fff" stroke="#000" stroke-width="1.1"/>
<circle cx="1508.66" cy="827.70" r="4.25" fill="#fff" stroke="#000" stroke-width="1.1"/>
<circle cx="1617.28" cy="842.90" r="4.25" fill="#fff" stroke="#000" stroke-width="1.1"/>
<circle cx="1182.80" cy="991.60" r="4.80" fill="#000"/>
<circle cx="1237.11" cy="982.00" r="4.80" fill="#000"/>
<circle cx="1264.27" cy="911.40" r="4.80" fill="#000"/>
<circle cx="1291.42" cy="933.10" r="4.80" fill="#000"/>
<circle cx="1400.04" cy="902.90" r="4.80" fill="#000"/>
<circle cx="1508.66" cy="914.10" r="4.80" fill="#000"/>
<circle cx="1617.28" cy="921.10" r="4.80" fill="#000"/>
<rect x="1097.50" y="623.30" width="172.10" height="65.00" fill="none" stroke="#333" stroke-width="1.3"/>
<line x1="1110.50" y1="644.90" x2="1151.90" y2="644.90" stroke="#777" stroke-width="2.0"/>
<circle cx="1130.00" cy="643.80" r="4.90" fill="#000"/>
<line x1="1110.50" y1="666.20" x2="1151.90" y2="666.20" stroke="#111" stroke-width="1.2"/>
<circle cx="1130.00" cy="665.30" r="4.05" fill="#fff" stroke="#000" stroke-width="1.1"/>
<text transform="translate(1161.37,650.90) scale(1.0268,1)" font-size="17.4" fill="#000">Day 1 N=4</text>
<text transform="translate(1161.36,672.00) scale(1.0340,1)" font-size="17.4" fill="#000">Day 22 N=2</text>
</svg>
</body></html>
